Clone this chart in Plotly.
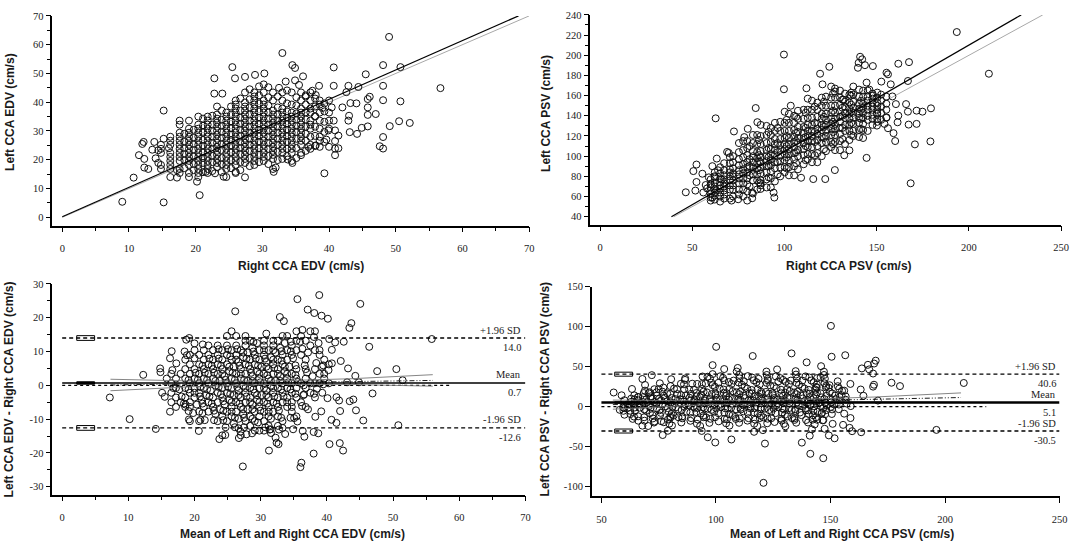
import plotly.graph_objects as go

# ---------------- EDV (cm/s) : right vs left common carotid ----------------
# the EDV readings are quantised, so they are kept as columns of right-side values
# with the left-side readings found in each column
edv_cols_right = [14.8, 16.2, 17.6, 19.0, 20.4, 21.8, 23.2, 24.6, 26.0, 27.4,
                  28.8, 30.2, 31.6, 33.0, 34.4, 35.8, 37.2, 38.6, 40.0,
                  18.3, 19.7, 21.1, 22.5, 23.9, 25.3, 26.7, 28.1, 29.5, 30.9,
                  32.3, 33.7, 35.1, 36.5, 37.9, 39.3]
edv_cols_left = [
    [16.8, 18.2, 22.4, 23.8, 25.2],
    [14.0, 16.8, 18.2, 19.6, 21.0, 22.4, 25.2, 26.6, 28.0],
    [15.4, 16.8, 19.6, 21.0, 22.4, 23.8, 25.2, 26.6, 28.0, 29.4, 32.2, 33.6],
    [14.0, 15.4, 18.2, 19.6, 21.0, 22.4, 23.8, 25.2, 26.6, 28.0, 29.4, 30.8, 33.6],
    [14.0, 15.4, 16.8, 18.2, 19.6, 21.0, 22.4, 23.8, 25.2, 26.6, 28.0, 29.4, 30.8, 32.2, 35.0],
    [15.4, 16.8, 18.2, 19.6, 21.0, 22.4, 23.8, 25.2, 26.6, 28.0, 29.4, 30.8, 32.2, 33.6, 35.0],
    [17.5, 18.9, 20.3, 21.7, 23.1, 24.5, 25.9, 27.3, 28.7, 30.1, 31.5, 32.9, 34.3, 35.7, 38.5],
    [14.0, 16.8, 18.2, 19.6, 21.0, 22.4, 23.8, 25.2, 26.6, 28.0, 29.4, 30.8, 32.2, 33.6, 35.0, 36.4],
    [15.4, 18.2, 19.6, 21.0, 22.4, 23.8, 25.2, 26.6, 28.0, 29.4, 30.8, 32.2, 33.6, 35.0, 36.4, 37.8, 39.2, 40.6],
    [18.9, 20.3, 21.7, 23.1, 24.5, 25.9, 27.3, 28.7, 30.1, 31.5, 32.9, 34.3, 35.7, 37.1, 38.5, 39.9, 43.4],
    [18.2, 19.6, 21.0, 22.4, 23.8, 25.2, 26.6, 28.0, 29.4, 30.8, 32.2, 33.6, 35.0, 36.4, 37.8, 39.2, 40.6, 42.0, 43.4],
    [19.6, 21.0, 22.4, 23.8, 25.2, 26.6, 28.0, 29.4, 30.8, 32.2, 33.6, 35.0, 36.4, 37.8, 39.2, 40.6, 43.4, 46.2],
    [16.8, 20.3, 21.7, 23.1, 24.5, 25.9, 27.3, 28.7, 30.1, 31.5, 32.9, 34.3, 35.7, 37.1, 40.6, 43.4],
    [20.3, 22.4, 23.8, 25.2, 26.6, 28.0, 29.4, 30.8, 32.2, 33.6, 35.0, 36.4, 37.8, 40.6, 43.4],
    [19.6, 22.4, 23.8, 25.2, 26.6, 28.0, 29.4, 30.8, 32.2, 33.6, 35.0, 36.4, 39.2, 43.4],
    [22.4, 25.2, 26.6, 28.0, 29.4, 30.8, 32.2, 33.6, 35.0, 36.4, 37.8, 40.6, 43.4],
    [23.8, 25.2, 28.0, 30.8, 32.2, 33.6, 36.4, 37.8, 40.6, 43.4],
    [24.5, 26.6, 28.0, 30.8, 33.6, 36.4, 39.2, 40.6],
    [24.5, 30.8, 33.6, 36.4, 40.6],
    [17.1, 19.9, 22.0, 24.1, 26.2, 29.0],
    [16.4, 18.5, 21.3, 23.4, 25.5, 27.6, 30.4],
    [15.7, 18.9, 20.6, 22.7, 24.8, 26.9, 29.7, 31.8, 34.3],
    [16.1, 19.2, 21.3, 23.8, 25.9, 28.0, 30.1, 32.2, 35.3],
    [15.7, 18.5, 20.6, 23.4, 25.5, 27.6, 29.7, 31.8, 33.9, 37.1],
    [17.1, 19.9, 22.7, 24.8, 26.9, 28.7, 31.1, 33.2, 35.7, 38.5],
    [16.4, 19.2, 22.0, 24.1, 26.2, 28.3, 30.4, 32.5, 34.6, 37.1, 41.3],
    [17.8, 20.6, 23.1, 25.2, 27.3, 29.4, 31.5, 33.6, 35.7, 38.2, 41.0, 44.5],
    [19.2, 21.7, 24.1, 26.2, 28.3, 30.4, 32.5, 34.6, 36.8, 39.6, 42.4],
    [18.5, 21.3, 23.8, 25.9, 28.0, 30.1, 32.2, 34.3, 36.4, 38.9, 41.7, 45.2],
    [19.9, 22.7, 25.2, 27.3, 29.4, 31.5, 33.6, 35.7, 38.2, 42.0],
    [21.3, 23.8, 26.2, 28.3, 30.4, 32.5, 34.6, 36.8, 39.6, 44.1],
    [20.6, 24.1, 27.3, 29.7, 31.8, 33.9, 36.1, 38.9, 41.7],
    [23.1, 26.6, 29.0, 31.5, 34.0, 36.5, 39.2, 42.4],
    [24.8, 28.3, 31.5, 35.0, 38.5, 41.3],
    [26.2, 29.7, 33.2, 36.8, 39.6],
]
# scattered readings outside the dense core
edv_out_right = [9.0, 10.7, 11.5, 12.2, 12.3, 12.3, 12.9, 13.8, 14.4, 14.4,
                 15.2, 15.2, 15.2, 20.2, 20.6, 22.8, 22.8, 24.0, 25.5, 25.9,
                 27.4, 28.9, 30.3, 33.0, 34.5, 34.9, 36.1, 34.9, 33.5, 40.7,
                 40.7, 38.5, 42.9, 44.4, 45.5, 48.1, 49.0, 50.7, 56.7, 48.1,
                 48.1, 50.7, 46.1, 45.8, 45.8, 45.8, 47.0, 45.8, 44.9, 49.1,
                 50.5, 52.1, 48.1, 47.6, 48.1, 44.2, 43.1, 43.0, 43.2, 44.1,
                 40.9, 40.9, 40.9, 40.9, 39.3, 40.4, 40.7, 39.9, 42.0, 42.6,
                 42.9, 35.8, 33.8, 34.5, 31.7, 32.0, 27.4, 26.0, 24.2, 22.9,
                 21.5, 17.2, 17.2, 36.5, 37.5, 35.5, 32.5, 29.5, 38.0, 39.0,
                 36.9, 38.0, 39.6, 13.5, 14.0, 16.0, 12.0, 41.4, 41.4, 37.9]
edv_out_left = [5.4, 13.8, 21.6, 26.2, 20.3, 17.3, 16.8, 26.2, 23.3, 18.9,
                37.1, 5.2, 27.3, 12.4, 7.7, 48.3, 43.0, 43.0, 52.2, 48.3,
                48.8, 49.5, 50.0, 57.1, 52.9, 51.9, 49.0, 47.6, 47.2, 52.1,
                45.7, 45.7, 45.7, 45.3, 49.7, 52.9, 62.7, 52.2, 44.9, 45.7,
                40.7, 40.3, 41.9, 41.1, 38.2, 35.6, 35.9, 31.6, 31.1, 31.7,
                33.4, 32.8, 27.9, 24.7, 23.9, 29.0, 29.6, 35.3, 39.7, 39.6,
                26.5, 23.9, 21.6, 30.2, 15.3, 38.2, 33.6, 30.2, 38.2, 43.5,
                33.6, 21.6, 20.1, 18.9, 15.8, 17.3, 13.9, 15.8, 14.1, 15.3,
                15.8, 13.8, 16.4, 42.0, 44.0, 46.0, 45.0, 45.5, 42.5, 38.0,
                24.5, 25.0, 27.0, 23.5, 20.5, 24.0, 25.5, 24.0, 28.4, 35.2]

edv_fit_x = [0, 68.4]          # regression line, scatter panel
edv_fit_y = [0.2, 70]
edv_identity = [0, 70]         # line of equality

edv_mean_diff = 0.7
edv_loa = [-12.6, 14.0]
edv_span = [0, 70]
edv_zero_span = [0, 58.8]
edv_ci_box_x = [2.2, 4.9]
edv_ci_mean = [0.35, 1.05]
edv_ci_lower = [-13.3, -11.9]
edv_ci_upper = [13.3, 14.7]
edv_reg_x = [7.3, 19.5, 31.6, 43.8, 56.0]
edv_reg_y = [0.1, 0.44, 0.77, 1.11, 1.45]
edv_reg_hi = [1.8, 1.29, 1.27, 1.96, 3.15]
edv_reg_lo = [-1.6, -0.41, 0.27, 0.26, -0.25]

# ---------------- PSV (cm/s) ----------------
psv_cols_right = [60.0, 62.2, 65.1, 67.3, 70.4, 72.1, 75.3, 77.6, 79.8, 82.9,
                  85.2, 87.1, 90.3, 92.6, 94.8, 97.7, 100.1, 102.4, 105.2, 107.3,
                  110.4, 112.6, 114.9, 117.8, 120.2, 122.5, 125.3, 127.4, 130.1, 132.8,
                  135.2, 137.3, 140.4, 142.6, 145.1, 147.7, 150.3, 152.4, 155.2,
                  81.1, 86.2, 91.4, 96.3, 101.2, 106.3, 111.5, 116.4, 121.4, 126.3,
                  131.4, 136.2, 141.5]
psv_cols_left = [
    [56, 59, 63, 66, 69, 72, 77],
    [57, 61, 64, 67, 70, 74, 79, 84],
    [55, 60, 64, 68, 71, 74, 78, 83, 89],
    [58, 62, 66, 70, 73, 77, 81, 86, 93],
    [58, 67, 71, 76, 80, 84, 87, 93, 99],
    [60, 67, 71, 76, 80, 83, 88, 94, 100],
    [62, 67, 73, 78, 82, 86, 91, 97, 104, 113],
    [60, 67, 73, 78, 83, 87, 92, 99, 106, 115],
    [56, 65, 72, 78, 84, 89, 94, 101, 108, 115],
    [63, 76, 82, 89, 94, 100, 105, 113, 121],
    [67, 76, 82, 88, 93, 98, 104, 112, 121],
    [71, 76, 83, 89, 94, 99, 105, 112, 120, 131],
    [69, 77, 84, 90, 95, 100, 106, 113, 121, 130],
    [69, 78, 85, 91, 97, 102, 107, 114, 121, 128],
    [75, 88, 94, 101, 106, 112, 117, 125, 133],
    [80, 89, 95, 101, 106, 111, 117, 125, 134],
    [84, 89, 96, 102, 107, 112, 118, 125, 133, 144],
    [81, 89, 96, 102, 107, 112, 118, 125, 133, 142],
    [81, 90, 97, 103, 109, 114, 119, 126, 133, 140],
    [87, 100, 106, 113, 118, 124, 129, 137, 145],
    [92, 101, 107, 113, 118, 123, 129, 137, 146],
    [97, 102, 109, 115, 120, 125, 131, 138, 146, 157],
    [94, 102, 109, 115, 120, 125, 131, 138, 146, 155],
    [94, 103, 110, 116, 122, 127, 132, 139, 146, 153],
    [100, 113, 119, 126, 131, 137, 142, 150, 158],
    [105, 114, 120, 126, 131, 136, 142, 150, 159],
    [109, 114, 121, 127, 132, 137, 143, 150, 158, 169],
    [106, 114, 121, 127, 132, 137, 143, 150, 158, 167],
    [106, 115, 122, 128, 134, 139, 144, 151, 158, 165],
    [112, 125, 131, 138, 143, 149, 154, 162],
    [116, 125, 131, 137, 142, 147, 153, 161],
    [120, 125, 132, 138, 143, 148, 154, 161, 169],
    [119, 126, 133, 138, 142, 147, 152, 159, 166],
    [118, 126, 132, 138, 143, 148, 152, 159, 165],
    [125, 136, 140, 146, 150, 155, 159, 165],
    [131, 137, 141, 146, 149, 153, 157, 162],
    [134, 137, 142, 146, 150, 153, 158, 163],
    [136, 143, 149, 155, 161],
    [138, 146, 152, 159],
    [70, 81, 90, 97, 110],
    [74, 86, 95, 101, 116],
    [79, 90, 99, 108, 124],
    [82, 94, 104, 113, 128],
    [88, 99, 110, 120, 136],
    [93, 104, 115, 123, 139],
    [96, 110, 119, 128, 143],
    [101, 114, 124, 133, 149],
    [107, 118, 129, 139, 154],
    [112, 124, 134, 145, 162],
    [117, 128, 140, 148, 156],
    [121, 133, 144, 151, 163],
    [127, 137, 146, 155],
]
psv_out_right = [46.5, 50.6, 52.3, 52.3, 51.7, 55.5, 57.3, 60.9, 60.9, 62.7,
                 63.3, 72.6, 68.9, 69.8, 71.3, 74.9, 78.2, 80.1, 82.5, 82.5,
                 84.4, 85.3, 87.0, 87.0, 94.1, 94.5, 99.7, 99.7, 103.4, 109.0,
                 115.6, 122.1, 127.3, 111.9, 119.3, 120.6, 124.3, 127.3, 141.0, 142.1,
                 140.2, 139.8, 143.6, 147.9, 144.5, 152.5, 155.3, 156.1, 157.6, 161.7,
                 167.5, 166.9, 193.4, 210.8, 165.9, 166.9, 171.6, 174.8, 179.4, 167.3,
                 171.6, 161.7, 161.3, 160.4, 158.5, 155.3, 154.2, 156.1, 159.1, 160.0,
                 170.7, 179.1, 168.4, 144.5, 135.2, 132.4, 150.1, 150.1, 58.0, 60.0,
                 62.0, 64.0, 66.0, 56.0, 59.0, 63.0, 148.0, 146.0, 136.0, 132.0]
psv_out_left = [64.2, 85.2, 91.7, 74.4, 65.9, 82.6, 71.4, 59.0, 90.1, 137.5,
                97.6, 124.5, 104.2, 103.2, 56.0, 57.3, 118.9, 127.1, 63.9, 58.3,
                147.7, 133.7, 73.1, 67.5, 63.9, 59.0, 200.7, 166.3, 150.0, 78.6,
                77.3, 77.3, 86.2, 167.3, 181.7, 171.2, 188.6, 164.1, 198.5, 196.0,
                192.5, 187.6, 190.2, 189.3, 172.9, 173.9, 182.7, 181.1, 171.2, 191.6,
                193.2, 174.5, 223.0, 181.7, 151.6, 144.1, 145.1, 144.1, 147.4, 131.3,
                132.0, 140.2, 133.6, 151.6, 159.2, 138.5, 132.0, 127.7, 122.8, 115.0,
                111.7, 114.6, 73.1, 98.3, 105.8, 100.9, 130.3, 142.5, 68.0, 72.0,
                80.0, 86.0, 77.0, 64.0, 79.0, 66.0, 160.0, 166.0, 160.0, 156.0]

psv_fit_x = [38.7, 228.3]
psv_fit_y = [40, 240]
psv_identity = [40, 240]

psv_mean_diff = 5.1
psv_loa = [-30.5, 40.6]
psv_span = [50, 250]
psv_zero_span = [50, 218]
psv_ci_box_x = [55.8, 63.6]
psv_ci_mean = [4.2, 6.0]
psv_ci_lower = [-33.0, -28.0]
psv_ci_upper = [38.1, 43.1]
psv_reg_x = [55, 93, 131, 169, 207]
psv_reg_y = [2.5, 4.7, 7.0, 9.2, 11.4]
psv_reg_hi = [8.2, 7.3, 8.5, 12.0, 17.2]
psv_reg_lo = [-3.2, 2.1, 5.5, 6.4, 5.7]


def flatten(cols_x, cols_y, extra_x, extra_y):
    xs, ys = [], []
    for cx, col in zip(cols_x, cols_y):
        for v in col:
            xs.append(cx)
            ys.append(v)
    return xs + list(extra_x), ys + list(extra_y)


edv_right, edv_left = flatten(edv_cols_right, edv_cols_left, edv_out_right, edv_out_left)
psv_right, psv_left = flatten(psv_cols_right, psv_cols_left, psv_out_right, psv_out_left)

# Bland-Altman coordinates
edv_avg = [(a + b) / 2 for a, b in zip(edv_right, edv_left)]
edv_dif = [b - a for a, b in zip(edv_right, edv_left)]
psv_avg = [(a + b) / 2 for a, b in zip(psv_right, psv_left)]
psv_dif = [b - a for a, b in zip(psv_right, psv_left)]

# page pixels -> paper fractions
W, H = 1084, 549


def px(a, b):
    return [a / W, b / W]


def py(top, bottom):
    return [1 - bottom / H, 1 - top / H]


SERIF = "Liberation Serif, Times New Roman, serif"
SANS = "Liberation Sans, Arial, sans-serif"
marker = dict(symbol="circle-open", size=7, color="#111", line=dict(width=1, color="#111"))

fig = go.Figure()


def pts(x, y, ax):
    fig.add_trace(go.Scatter(x=x, y=y, mode="markers", marker=marker,
                             xaxis="x" + ax, yaxis="y" + ax, hoverinfo="skip"))


def line(x, y, ax, color="black", width=1, dash="solid"):
    fig.add_trace(go.Scatter(x=x, y=y, mode="lines", xaxis="x" + ax, yaxis="y" + ax,
                             line=dict(color=color, width=width, dash=dash), hoverinfo="skip"))


# scatter panels
line(edv_identity, edv_identity, "", color="#a8a8a8", width=1)
pts(edv_right, edv_left, "")
line(edv_fit_x, edv_fit_y, "", width=1.2)

line(psv_identity, psv_identity, "2", color="#a8a8a8", width=1)
pts(psv_right, psv_left, "2")
line(psv_fit_x, psv_fit_y, "2", width=1.2)

# Bland-Altman panels
pts(edv_avg, edv_dif, "3")
line(edv_zero_span, [0, 0], "3", width=1.3, dash="dot")
line(edv_reg_x, edv_reg_hi, "3", color="#777", width=0.9)
line(edv_reg_x, edv_reg_lo, "3", color="#777", width=0.9)
line([edv_reg_x[0], edv_reg_x[-1]], [edv_reg_y[0], edv_reg_y[-1]], "3", width=0.9,
     dash="5px,2px,1px,2px,1px,2px")
line(edv_span, [edv_mean_diff] * 2, "3", width=1.6)
for v in edv_loa:
    line(edv_span, [v, v], "3", width=1.3, dash="4px,3px")

pts(psv_avg, psv_dif, "4")
line(psv_zero_span, [0, 0], "4", width=1.3, dash="dot")
line(psv_reg_x, psv_reg_hi, "4", color="#777", width=0.9)
line(psv_reg_x, psv_reg_lo, "4", color="#777", width=0.9)
line([psv_reg_x[0], psv_reg_x[-1]], [psv_reg_y[0], psv_reg_y[-1]], "4", width=0.9,
     dash="5px,2px,1px,2px,1px,2px")
line(psv_span, [psv_mean_diff] * 2, "4", width=2.4)
for v in psv_loa:
    line(psv_span, [v, v], "4", width=1.3, dash="4px,3px")

# confidence-interval boxes drawn at the left end of the reference lines
shapes = []
for ax, bx, boxes in [("3", edv_ci_box_x, [edv_ci_upper, edv_ci_lower, edv_ci_mean]),
                      ("4", psv_ci_box_x, [psv_ci_upper, psv_ci_lower, psv_ci_mean])]:
    for i, (y0, y1) in enumerate(boxes):
        shapes.append(dict(type="rect", xref="x" + ax, yref="y" + ax, x0=bx[0], x1=bx[1],
                           y0=y0, y1=y1, layer="below",
                           fillcolor="black" if i == 2 else "white",
                           line=dict(color="black", width=1)))

# reference line labels
annotations = []
for ax, xr, mean, loa in [("3", edv_span[1], edv_mean_diff, edv_loa),
                          ("4", psv_span[1], psv_mean_diff, psv_loa)]:
    for val, name in [(loa[1], "+1.96 SD"), (mean, "Mean"), (loa[0], "-1.96 SD")]:
        for txt, shift in [(name, 8), ("%.1f" % val, -9.5)]:
            annotations.append(dict(x=xr, y=val, xref="x" + ax, yref="y" + ax, text=txt,
                                    showarrow=False, xanchor="right", yanchor="middle",
                                    xshift=-2, yshift=shift,
                                    font=dict(family=SERIF, size=10.5, color="#222")))

titles = [
    ("Right CCA EDV (cm/s)", 303, 263, 0),
    ("Left CCA EDV (cm/s)", 10, 108, -90),
    ("Right CCA PSV (cm/s)", 855, 263, 0),
    ("Left CCA PSV (cm/s)", 550, 109, -90),
    ("Mean of Left and Right CCA EDV (cm/s)", 295, 534, 0),
    ("Left CCA EDV - Right CCA EDV (cm/s)", 10, 388, -90),
    ("Mean of Left and Right CCA PSV (cm/s)", 848, 534, 0),
    ("Left CCA PSV - Right CCA PSV (cm/s)", 550, 388, -90),
]
for txt, x, y, ang in titles:
    annotations.append(dict(x=x / W, y=1 - y / H, xref="paper", yref="paper",
                            text="<b>%s</b>" % txt, showarrow=False, textangle=ang,
                            xanchor="center", yanchor="middle",
                            font=dict(family=SANS, size=12, color="#1a1a1a")))


def axis(domain, rng, vals, anchor, minor=None):
    a = dict(domain=domain, range=rng, tickvals=vals, ticktext=[str(v) for v in vals],
             ticks="outside", ticklen=5, tickwidth=1, tickcolor="black",
             showline=True, linecolor="black", linewidth=1.5, showgrid=False,
             zeroline=False, anchor=anchor,
             tickfont=dict(family=SERIF, size=10.5, color="#222"))
    if minor:
        a["minor"] = dict(dtick=minor, tick0=0, ticks="outside", ticklen=4,
                          tickcolor="black", tickwidth=1, showgrid=False)
    return a


fig.update_layout(
    width=W, height=H, margin=dict(l=0, r=0, t=0, b=0),
    paper_bgcolor="white", plot_bgcolor="white", showlegend=False,
    xaxis=axis(px(52.7, 533.1), [-1.49, 70], [0, 10, 20, 30, 40, 50, 60, 70], "y", 5),
    yaxis=axis(py(11, 222.7), [-2.9, 70], [0, 10, 20, 30, 40, 50, 60, 70], "x", 5),
    xaxis2=axis(px(594.8, 1069.1), [-5.2, 250], [0, 50, 100, 150, 200, 250], "y2"),
    yaxis2=axis(py(10, 221.7), [32.1, 240], [40, 60, 80, 100, 120, 140, 160, 180, 200, 220, 240], "x2", 10),
    xaxis3=axis(px(52.7, 529.3), [-1.49, 70], [0, 10, 20, 30, 40, 50, 60, 70], "y3", 5),
    yaxis3=axis(py(281.5, 494), [-32.3, 30], [-30, -20, -10, 0, 10, 20, 30], "x3", 5),
    xaxis4=axis(px(596.2, 1067.4), [45.8, 250], [50, 100, 150, 200, 250], "y4"),
    yaxis4=axis(py(284.3, 495.7), [-112, 150], [-100, -50, 0, 50, 100, 150], "x4"),
    shapes=shapes, annotations=annotations,
)
for ax in ["xaxis", "xaxis2", "xaxis3", "xaxis4"]:
    fig.layout[ax].ticklabelstandoff = 7

# the browser's default 8px body margin would shift the whole figure
fig.write_html("out.html", config={"displayModeBar": False},
               post_script="document.body.style.margin='0px';")
